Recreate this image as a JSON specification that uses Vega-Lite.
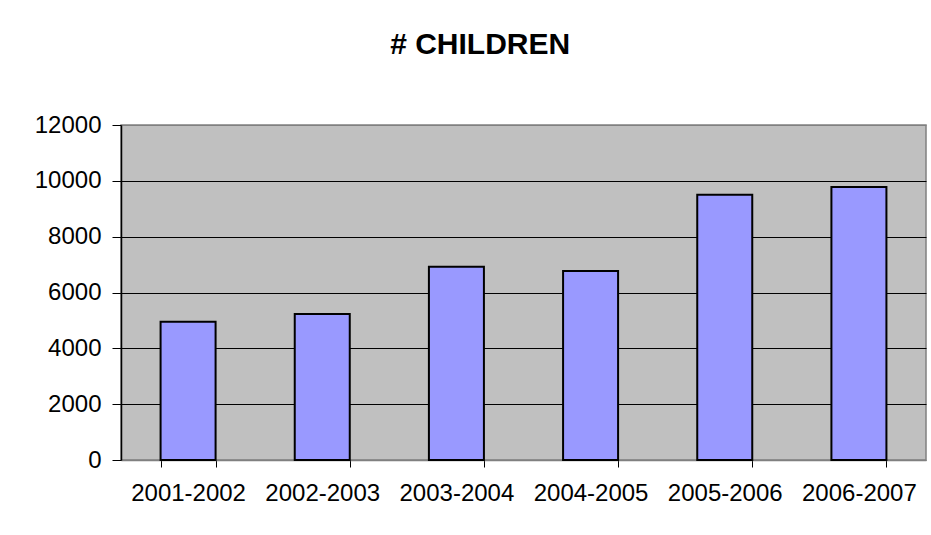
{
  "$schema": "https://vega.github.io/schema/vega-lite/v6.json",
  "width": 805,
  "height": 335,
  "autosize": {"type": "none"},
  "padding": {"left": 121, "top": 125, "right": 5, "bottom": 75},
  "background": "white",
  "title": {
    "text": "# CHILDREN",
    "font": "Liberation Sans",
    "fontSize": 30,
    "fontWeight": "bold",
    "color": "black",
    "anchor": "middle",
    "frame": "bounds",
    "offset": 53
  },
  "data": {
    "values": [
      {"year": "2001-2002", "children": 4950},
      {"year": "2002-2003", "children": 5230},
      {"year": "2003-2004", "children": 6920},
      {"year": "2004-2005", "children": 6770},
      {"year": "2005-2006", "children": 9500},
      {"year": "2006-2007", "children": 9780}
    ]
  },
  "mark": {"type": "bar", "color": "#9999FF", "stroke": "black", "strokeWidth": 2},
  "encoding": {
    "x": {
      "field": "year",
      "type": "nominal",
      "sort": null,
      "scale": {"paddingInner": 0.59, "paddingOuter": 0.295},
      "axis": {
        "title": null,
        "labelAngle": 0,
        "labelFont": "Liberation Sans",
        "labelFontSize": 24,
        "labelColor": "black",
        "labelPadding": 14,
        "tickBand": "extent",
        "tickSize": 7,
        "tickColor": "black",
        "domainColor": "#808080",
        "domainWidth": 1.5,
        "grid": false
      }
    },
    "y": {
      "field": "children",
      "type": "quantitative",
      "scale": {"domain": [0, 12000]},
      "axis": {
        "title": null,
        "values": [0, 2000, 4000, 6000, 8000, 10000, 12000],
        "format": "d",
        "labelFont": "Liberation Sans",
        "labelFontSize": 24,
        "labelColor": "black",
        "labelPadding": 11,
        "tickSize": 9,
        "tickColor": "black",
        "domainColor": "black",
        "domainWidth": 1.5,
        "grid": true,
        "gridColor": {"condition": {"test": "datum.value == 12000 || datum.value == 0", "value": "#808080"}, "value": "black"},
        "gridOpacity": 1,
        "gridWidth": 1
      }
    }
  },
  "config": {
    "view": {"fill": "#C0C0C0", "stroke": "#808080", "strokeWidth": 1.5}
  }
}
